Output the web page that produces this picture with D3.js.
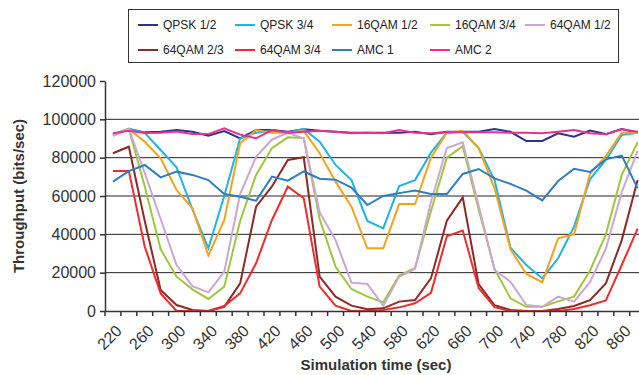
<!DOCTYPE html>
<html>
<head>
<meta charset="utf-8">
<script src="https://cdn.jsdelivr.net/npm/d3@7"></script>
<style>
  body { margin: 0; background: #fff; }
  svg { display: block; font-family: Arial, "Liberation Sans", Helvetica, sans-serif; }
</style>
</head>
<body>
<svg id="chart" width="639" height="375"></svg>
<script>
// simulation time categories (sec)
const categories = [220, 240, 260, 280, 300, 320, 340, 360, 380, 400, 420, 440, 460, 480, 500, 520, 540,
    560, 580, 600, 620, 640, 660, 680, 700, 720, 740, 760, 780, 800, 820, 840, 860, 880];
const labelledTicks = [220, 260, 300, 340, 380, 420, 460, 500, 540, 580, 620, 660, 700, 740, 780, 820, 860];
const yTicks = [0, 20000, 40000, 60000, 80000, 100000, 120000];

const qpsk12 = [92000, 95000, 93200, 93500, 94400, 93500, 91500, 93900, 90000, 94400, 94400, 93500, 94800, 94000, 93500, 93000, 93000,
    93000, 93000, 93500, 92200, 93500, 93500, 93500, 95000, 93500, 88700, 88700, 92700, 90900, 94100, 92300, 95000, 93000];
const qpsk34 = [92000, 95000, 92900, 84000, 75000, 53000, 32700, 60000, 90100, 93000, 94000, 93000, 95000, 88300, 76200, 68300, 47000,
    43100, 65200, 68300, 82600, 93000, 93500, 85000, 68300, 33000, 24000, 17000, 27500, 44000, 68700, 78800, 91800, 93000];
const qam16_12 = [92000, 95000, 88300, 79700, 63100, 53600, 28900, 47500, 87500, 94400, 93000, 93000, 94000, 82300, 67500, 54400, 32700,
    32700, 55800, 55800, 80000, 93000, 94000, 85000, 64000, 32200, 19300, 15000, 37900, 40000, 71500, 80900, 93000, 93000];
const qam16_34 = [92000, 95000, 65000, 32200, 17900, 11300, 6300, 12700, 47000, 71000, 85000, 90600, 90200, 48000, 23100, 11500, 7500,
    4500, 18500, 22500, 52000, 80000, 86000, 53000, 22000, 6600, 2200, 2200, 5000, 7500, 21000, 40000, 71000, 88000];
const qam64_12 = [91300, 95000, 72000, 48000, 24000, 13000, 9700, 20500, 61000, 80500, 89500, 93000, 90000, 51500, 37000, 14800, 14100,
    2800, 17800, 22000, 57000, 85000, 88000, 55000, 21400, 15300, 3100, 2200, 7500, 4900, 15000, 32500, 62000, 83500];
const qam64_23 = [82300, 85700, 47000, 11000, 3100, 500, 0, 2200, 14400, 54400, 65000, 78800, 80200, 17900, 7500, 2800, 900,
    1400, 4900, 5700, 17000, 47100, 59300, 14000, 3000, 500, 0, 0, 1000, 2600, 5700, 14400, 37000, 68300];
const qam64_34 = [73000, 73000, 33500, 9200, 0, 0, 0, 2600, 9200, 24900, 47500, 64900, 58800, 12700, 2800, 0, 0,
    500, 1900, 4000, 9500, 39000, 42000, 12000, 2000, 0, 0, 0, 0, 1000, 3000, 5500, 24000, 43000];
const amc1 = [67500, 73000, 76200, 69700, 72700, 71000, 68300, 61000, 59600, 57500, 70100, 68000, 72800, 69000, 68500, 64400, 55300,
    60000, 61500, 62800, 61000, 61000, 71500, 74100, 69200, 66300, 62800, 57700, 67800, 74200, 72500, 79100, 81100, 64000];
const amc2 = [92700, 94100, 92900, 93000, 93700, 92300, 92300, 95300, 92000, 90100, 94400, 93000, 93500, 94100, 93500, 92700, 93000,
    92700, 94400, 93000, 92700, 93200, 93200, 93200, 93200, 93000, 93000, 92700, 93500, 94400, 92700, 92200, 94800, 93500];

const seriesNames = ['QPSK 1/2', 'QPSK 3/4', '16QAM 1/2', '16QAM 3/4', '64QAM 1/2', '64QAM 2/3', '64QAM 3/4', 'AMC 1', 'AMC 2'];
const seriesValues = [qpsk12, qpsk34, qam16_12, qam16_34, qam64_12, qam64_23, qam64_34, amc1, amc2];
const seriesColors = ['#2e3192', '#1db4e6', '#f7a21e', '#9dc83c', '#cba6d6', '#8b2a26', '#ee2c2f', '#2f7dc3', '#ec2f8e'];

const svg = d3.select('#chart');
const plotLeft = 105, plotBottom = 311, plotTop = 81;
const step = 15.9;

const x = d3.scaleBand().domain(categories).range([plotLeft, plotLeft + step * categories.length]).padding(0);
const y = d3.scaleLinear().domain([0, 120000]).range([plotBottom, plotTop]);
const cx = d => x(d) + x.bandwidth() / 2;

// horizontal gridlines
svg.append('g')
    .selectAll('line')
    .data(yTicks.filter(t => t > 0 && t < 120000))
    .enter()
    .append('line')
    .attr('x1', plotLeft).attr('x2', 639)
    .attr('y1', d => y(d)).attr('y2', d => y(d))
    .attr('stroke', '#222').attr('stroke-width', 1);

// lines
const line = d3.line().x((d, i) => cx(categories[i])).y(d => y(d));
seriesValues.forEach((vals, k) => {
    svg.append('path')
        .datum(vals)
        .attr('fill', 'none')
        .attr('stroke', seriesColors[k])
        .attr('stroke-width', 2)
        .attr('stroke-linejoin', 'miter')
        .attr('d', line);
});

// y axis
const yAxis = svg.append('g')
    .attr('transform', `translate(${plotLeft},0)`)
    .call(d3.axisLeft(y).tickValues(yTicks).tickSize(5).tickSizeOuter(0).tickFormat(d => d));
yAxis.select('.domain').attr('stroke', '#333').attr('stroke-width', 1.5);
yAxis.selectAll('.tick line').attr('stroke', '#333').attr('stroke-width', 1.5);
yAxis.selectAll('.tick text').attr('font-size', 16).attr('fill', '#333').attr('x', -9)
    .attr('font-family', 'Arial, "Liberation Sans", sans-serif');

// x axis: ticks between categories, labels on every other category
const xAxis = svg.append('g')
    .attr('transform', `translate(0,${plotBottom})`)
    .call(d3.axisBottom(x).tickValues(labelledTicks).tickSize(0).tickSizeOuter(0));
xAxis.select('.domain').attr('stroke', '#333').attr('stroke-width', 1.5);
xAxis.selectAll('.tick text')
    .attr('font-size', 16).attr('fill', '#333')
    .attr('font-family', 'Arial, "Liberation Sans", sans-serif')
    .attr('text-anchor', 'end')
    .attr('dy', '0.35em')
    .attr('transform', 'translate(6,17) rotate(-45)')
    .attr('y', 0).attr('x', 0);
xAxis.selectAll('.tickmark')
    .data(categories)
    .enter()
    .append('line')
    .attr('class', 'tickmark')
    .attr('x1', d => x(d)).attr('x2', d => x(d))
    .attr('y1', 0).attr('y2', 5)
    .attr('stroke', '#333').attr('stroke-width', 1.5);

// axis titles
svg.append('text')
    .attr('transform', `translate(24,${(plotTop + plotBottom) / 2}) rotate(-90)`)
    .attr('text-anchor', 'middle')
    .attr('font-size', 15).attr('font-weight', 'bold').attr('fill', '#333')
    .text('Throughput (bits/sec)');
svg.append('text')
    .attr('x', 376).attr('y', 370)
    .attr('text-anchor', 'middle')
    .attr('font-size', 15).attr('font-weight', 'bold').attr('fill', '#333')
    .text('Simulation time (sec)');

// legend
const legend = svg.append('g');
legend.append('rect')
    .attr('x', 128.5).attr('y', 9.5).attr('width', 490).attr('height', 53)
    .attr('fill', '#fff').attr('stroke', '#333').attr('stroke-width', 1);
const colX = [138, 235, 332, 430, 525];
const rowY = [25, 50];
seriesNames.forEach((name, i) => {
    const gx = colX[i % 5], gy = rowY[Math.floor(i / 5)];
    const g = legend.append('g').attr('transform', `translate(${gx},${gy})`);
    g.append('line').attr('x1', 0).attr('x2', 20).attr('y1', 0).attr('y2', 0)
        .attr('stroke', seriesColors[i]).attr('stroke-width', 2);
    g.append('text').attr('x', 25).attr('y', 0).attr('dy', '0.35em')
        .attr('font-size', 12).attr('fill', '#222').text(name);
});
</script>
</body>
</html>
